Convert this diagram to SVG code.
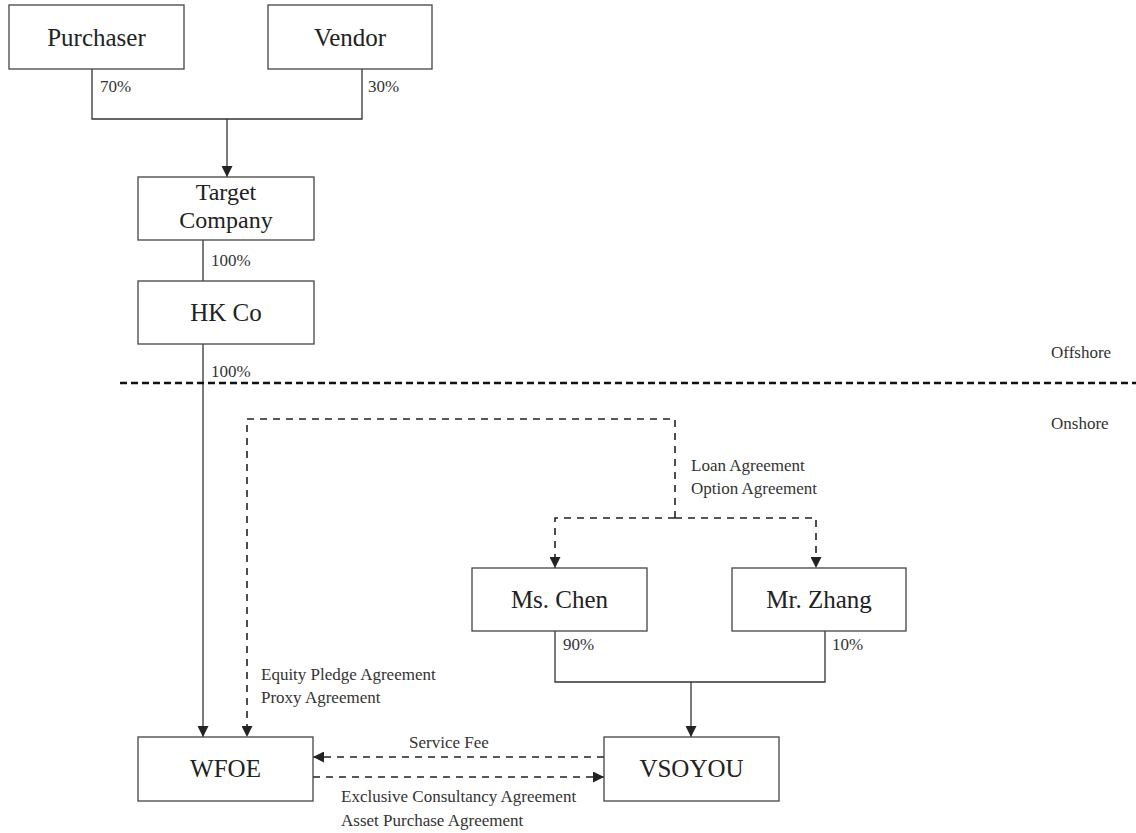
<svg xmlns="http://www.w3.org/2000/svg" width="1136" height="833" viewBox="0 0 1136 833">
<style>
.box{fill:#fff;stroke:#444;stroke-width:1.3}
.nt{font-family:"Liberation Serif","Times New Roman",serif;font-size:25px;fill:#222;text-anchor:middle}
.lt{font-family:"Liberation Serif","Times New Roman",serif;font-size:17px;fill:#333}
.solid{fill:none;stroke:#333;stroke-width:1.3}
.dash{fill:none;stroke:#222;stroke-width:1.6;stroke-dasharray:7 6}
.border{fill:none;stroke:#111;stroke-width:2.5;stroke-dasharray:7 4}
</style>
<defs>
<marker id="arr" markerWidth="11" markerHeight="11" viewBox="0 0 11 11" refX="11" refY="5.5" orient="auto" markerUnits="userSpaceOnUse">
<path d="M0,0 L11,5.5 L0,11 Z" fill="#222"/>
</marker>
</defs>
<rect width="1136" height="833" fill="#fff"/>
<g id="connectors">
<path class="solid" d="M92,69 V119 H362 V69"/>
<path class="solid" d="M227,119 V177" marker-end="url(#arr)"/>
<path class="solid" d="M203,240 V281"/>
<path class="solid" d="M203,344 V737" marker-end="url(#arr)"/>
<path class="dash" d="M675,518 V419 H247 V737" marker-end="url(#arr)"/>
<path class="dash" d="M675,518 H555 V568" marker-end="url(#arr)"/>
<path class="dash" d="M675,518 H816 V568" marker-end="url(#arr)"/>
<path class="solid" d="M555,631 V682 H825 V631"/>
<path class="solid" d="M691,682 V737" marker-end="url(#arr)"/>
<path class="dash" d="M604,757 H313" marker-end="url(#arr)"/>
<path class="dash" d="M313,777 H604" marker-end="url(#arr)"/>
<path class="border" d="M120,383 H1136"/>
</g>
<g id="labels">
<text class="lt" x="100" y="92">70%</text>
<text class="lt" x="368" y="92">30%</text>
<text class="lt" x="211" y="266">100%</text>
<text class="lt" x="211" y="377">100%</text>
<text class="lt" x="1051" y="358">Offshore</text>
<text class="lt" x="1051" y="429">Onshore</text>
<text class="lt" x="691" y="471">Loan Agreement</text>
<text class="lt" x="691" y="494">Option Agreement</text>
<text class="lt" x="563" y="650">90%</text>
<text class="lt" x="832" y="650">10%</text>
<text class="lt" x="261" y="680">Equity Pledge Agreement</text>
<text class="lt" x="261" y="703">Proxy Agreement</text>
<text class="lt" x="409" y="748">Service Fee</text>
<text class="lt" x="341" y="802">Exclusive Consultancy Agreement</text>
<text class="lt" x="341" y="826">Asset Purchase Agreement</text>
</g>
<g id="purchaser"><rect class="box" x="9" y="5" width="175" height="64"/><text class="nt" x="96.5" y="46">Purchaser</text></g>
<g id="vendor"><rect class="box" x="268" y="5" width="164" height="64"/><text class="nt" x="350" y="46">Vendor</text></g>
<g id="target"><rect class="box" x="138" y="177" width="176" height="63"/><text class="nt" x="226" y="200" style="font-size:24px">Target</text><text class="nt" x="226" y="228" style="font-size:24px">Company</text></g>
<g id="hkco"><rect class="box" x="138" y="281" width="176" height="63"/><text class="nt" x="226" y="321">HK Co</text></g>
<g id="chen"><rect class="box" x="472" y="568" width="175" height="63"/><text class="nt" x="559.5" y="608">Ms. Chen</text></g>
<g id="zhang"><rect class="box" x="732" y="568" width="174" height="63"/><text class="nt" x="819" y="608">Mr. Zhang</text></g>
<g id="wfoe"><rect class="box" x="138" y="737" width="175" height="64"/><text class="nt" x="225.5" y="777">WFOE</text></g>
<g id="vsoyou"><rect class="box" x="604" y="737" width="175" height="64"/><text class="nt" x="691.5" y="777">VSOYOU</text></g>
</svg>
